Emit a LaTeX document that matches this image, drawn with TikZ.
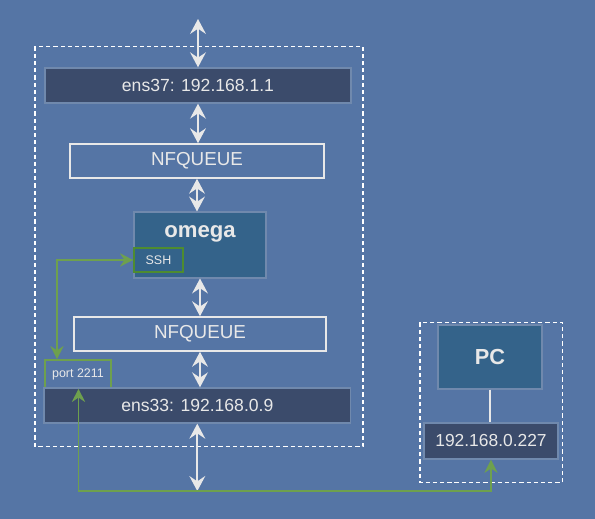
\documentclass[tikz,border=0pt]{standalone}
\usepackage{fontspec}
\setmainfont{Liberation Sans}
\usetikzlibrary{arrows.meta}
\definecolor{bgblue}{RGB}{85,117,165}
\definecolor{ifdark}{RGB}{59,75,107}
\definecolor{hostblue}{RGB}{52,99,138}
\definecolor{edgegray}{RGB}{112,137,173}
\definecolor{txtgray}{RGB}{232,232,232}
\definecolor{linkgreen}{RGB}{110,160,78}
\definecolor{sshgreen}{RGB}{78,140,48}
\begin{document}
\begin{tikzpicture}[x=0.02cm,y=-0.02cm,
		iface/.style={draw=edgegray,fill=ifdark,line width=0.8pt,text=txtgray,inner sep=0,font=\fontsize{10}{12}\selectfont},
		queue/.style={draw=txtgray,line width=0.9pt,text=txtgray,inner sep=0,font=\fontsize{10.7}{12}\selectfont},
		host/.style={draw=edgegray,fill=hostblue,line width=0.6pt,text=txtgray,inner sep=0},
		portbox/.style={draw=#1,line width=0.9pt,text=txtgray,inner sep=0,font=\fontsize{7.1}{9}\selectfont},
		frame/.style={draw=white,line width=0.85pt,dash pattern=on 2.4pt off 1.7pt},
		biarrow/.style={draw=txtgray,line width=1.1pt,{Stealth[length=8.5pt,width=9pt,inset=3pt]}-{Stealth[length=8.5pt,width=9pt,inset=3pt]}},
		sshlink/.style={draw=linkgreen,line width=0.9pt,{Stealth[length=7.5pt,width=7.5pt,inset=2.5pt]}-{Stealth[length=7.5pt,width=7.5pt,inset=2.5pt]}}]
	\fill [bgblue] (0,0) rectangle (595,519);
	\useasboundingbox (0,0) rectangle (595,519);
	\draw [frame] (35,46.5) rectangle (363,446.5);
	\draw [frame] (420,322.5) rectangle (562.5,482.5);
	\node [iface,minimum width=6.12cm,minimum height=0.7cm] at (198,85.5) (ens37) {ens37: 192.168.1.1};
	\node [queue,minimum width=5.08cm,minimum height=0.68cm] at (197,161) (nfq1) {NFQUEUE};
	\node [host,minimum width=2.64cm,minimum height=1.32cm,label={[text=txtgray,anchor=center,yshift=-0.44cm,font=\fontsize{12.6}{14}\selectfont\bfseries]north:omega}] at (200,245) (omega) {};
	\node [portbox=sshgreen,minimum width=0.98cm,minimum height=0.48cm] at (158.5,260) (ssh) {SSH};
	\node [queue,minimum width=5.04cm,minimum height=0.68cm] at (200,334) (nfq2) {NFQUEUE};
	\node [portbox=linkgreen,minimum width=1.31cm,minimum height=0.56cm] at (78,374) (port) {port 2211};
	\node [iface,minimum width=6.13cm,minimum height=0.7cm] at (197.3,405.5) (ens33) {ens33: 192.168.0.9};
	\node [host,minimum width=2.08cm,minimum height=1.28cm,font=\fontsize{12.4}{14}\selectfont\bfseries] at (490,357) (pc) {PC};
	\node [iface,minimum width=2.68cm,minimum height=0.72cm,font=\fontsize{9.9}{12}\selectfont] at (491,441) (ip227) {192.168.0.227};
	\coordinate (wan) at (198,19);
	\coordinate (lan) at (197.3,491);
	\draw [biarrow] (wan) -- (ens37);
	\foreach \a/\b in {ens37/nfq1, nfq1/omega, omega/nfq2, nfq2/ens33}{
		\draw [biarrow] (\a.south) -- (\a.south |- \b.north);
	}
	\draw [biarrow] (ens33) -- (lan);
	\draw [txtgray,line width=0.8pt] (pc) -- (pc |- ip227.north);
	\draw [sshlink] ([xshift=-0.42cm]port.north) |- (ssh.west);
	\draw [sshlink] ([xshift=0.01cm]port.south) |- (lan) -| (ip227.south);
\end{tikzpicture}
\end{document}
